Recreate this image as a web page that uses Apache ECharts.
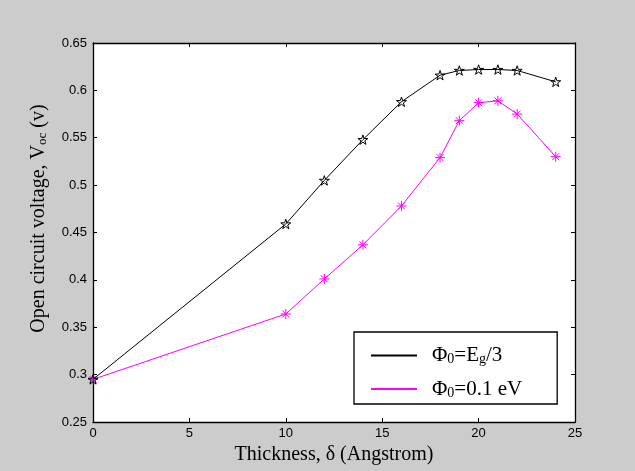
<!DOCTYPE html>
<html>
<head>
<meta charset="utf-8">
<title>Voc vs thickness</title>
<script src="https://cdn.jsdelivr.net/npm/echarts@6/dist/echarts.min.js"></script>
<style>
  html, body { margin: 0; padding: 0; background: #cccccc; }
  #chart { width: 635px; height: 471px; }
</style>
</head>
<body>
<div id="chart"></div>
<script>
// thickness (Angstrom)
const thickness = [0, 10, 12, 14, 16, 18, 19, 20, 21, 22, 24]
// Voc for phi0 = Eg/3
const vocEg3 = [0.295, 0.459, 0.505, 0.548, 0.588, 0.616, 0.621, 0.622, 0.622, 0.621, 0.609]
// Voc for phi0 = 0.1 eV
const voc01 = [0.295, 0.364, 0.401, 0.437, 0.478, 0.529, 0.568, 0.587, 0.589, 0.575, 0.530]
const seriesNames = ['Φ0=Eg/3', 'Φ0=0.1 eV']
const legendLabels = {
  'Φ0=Eg/3': '{a|Φ}{s|0}{a|=E}{s|g}{a|/3}',
  'Φ0=0.1 eV': '{a|Φ}{s|0}{a|=0.1 eV}'
}

// marker shapes
const starPath = 'path://M0,-1L0.2245,-0.309L0.951,-0.309L0.363,0.118L0.588,0.809L0,0.382L-0.588,0.809L-0.363,0.118L-0.951,-0.309L-0.2245,-0.309Z'
const asteriskPath = 'path://M0,-1L0,1M-1,0L1,0M-0.7,-0.7L0.7,0.7M-0.7,0.7L0.7,-0.7'

const chart = echarts.init(document.getElementById('chart'))

const tickFont = { color: '#000', fontFamily: 'Liberation Sans', fontSize: 13 }
const boxAxis = (extra) => Object.assign({
  type: 'value',
  axisLine: { show: true, onZero: false, lineStyle: { color: '#000', width: 1.3 } },
  axisTick: { show: true, inside: true, length: 4, lineStyle: { color: '#000' } },
  splitLine: { show: false }
}, extra)

const option = {
  backgroundColor: '#cccccc',
  animation: false,
  grid: { left: 93, right: 60, top: 43, bottom: 49, show: true, backgroundColor: '#ffffff', borderWidth: 0 },
  xAxis: [
    boxAxis({
      min: 0, max: 25, interval: 5,
      axisLabel: Object.assign({ margin: 5 }, tickFont),
      name: 'Thickness, δ (Angstrom)',
      nameLocation: 'middle',
      nameGap: 17,
      nameTextStyle: { fontFamily: 'Liberation Serif', fontSize: 20, color: '#000' }
    }),
    boxAxis({ position: 'top', min: 0, max: 25, interval: 5, axisLabel: { show: false } })
  ],
  yAxis: [
    boxAxis({
      min: 0.25, max: 0.65, interval: 0.05,
      axisLabel: Object.assign({ margin: 6 }, tickFont),
      name: '{a|Open circuit voltage, V}{s|oc}{a| (v)}',
      nameLocation: 'middle',
      nameGap: 44,
      nameTextStyle: {
        padding: [0, 0, 0, 28],
        rich: {
          a: { fontFamily: 'Liberation Serif', fontSize: 20, color: '#000' },
          s: { fontFamily: 'Liberation Serif', fontSize: 13, color: '#000', padding: [7, 0, 0, 0] }
        }
      }
    }),
    boxAxis({ position: 'right', min: 0.25, max: 0.65, interval: 0.05, axisLabel: { show: false } })
  ],
  legend: {
    orient: 'vertical',
    left: 354,
    top: 332,
    padding: [13, 35, 4, 17],
    itemGap: 12,
    itemWidth: 46,
    itemHeight: 2,
    backgroundColor: '#ffffff',
    borderColor: '#000',
    borderWidth: 1.3,
    borderRadius: 0,
    data: [
      { name: seriesNames[0], icon: 'rect', itemStyle: { color: '#000000', borderWidth: 0 } },
      { name: seriesNames[1], icon: 'rect', itemStyle: { color: '#ff00ff', borderWidth: 0 } }
    ],
    formatter: (name) => legendLabels[name],
    textStyle: {
      padding: [0, 0, 0, 10],
      rich: {
        a: { fontFamily: 'Liberation Serif', fontSize: 21, color: '#000', lineHeight: 23 },
        s: { fontFamily: 'Liberation Serif', fontSize: 14, color: '#000', padding: [8, 0, 0, 0] }
      }
    }
  },
  series: [
    {
      name: seriesNames[0],
      type: 'line',
      data: thickness.map((t, i) => [t, vocEg3[i]]),
      symbol: starPath,
      symbolSize: 10,
      symbolKeepAspect: true,
      lineStyle: { color: '#000000', width: 1 },
      itemStyle: { color: 'rgba(0,0,0,0)', borderColor: '#000000', borderWidth: 1 },
      z: 3
    },
    {
      name: seriesNames[1],
      type: 'line',
      data: thickness.map((t, i) => [t, voc01[i]]),
      symbol: asteriskPath,
      symbolSize: 10,
      symbolKeepAspect: true,
      lineStyle: { color: '#ff00ff', width: 1 },
      itemStyle: { color: '#ff00ff', borderColor: '#ff00ff', borderWidth: 1 },
      z: 2
    }
  ]
}

chart.setOption(option)
</script>
</body>
</html>
